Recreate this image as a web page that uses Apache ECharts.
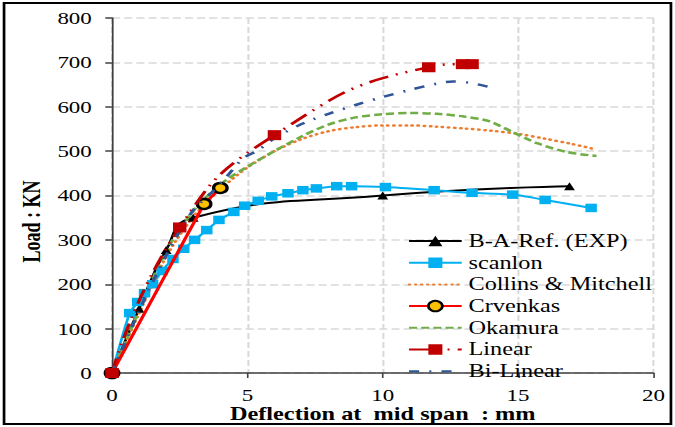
<!DOCTYPE html>
<html>
<head>
<meta charset="utf-8">
<script src="https://cdn.jsdelivr.net/npm/echarts@6/dist/echarts.min.js"></script>
<style>
html,body{margin:0;padding:0;background:#fff;overflow:hidden;}
#wrap{width:675px;height:427px;overflow:hidden;}
/* the reference picture is stretched horizontally; reproduce that */
#chart{width:500px;height:427px;transform:scaleX(1.35);transform-origin:0 0;}
</style>
</head>
<body>
<div id="wrap"><div id="chart"></div></div>
<script>
// ---- data (deflection mm, load kN) ----
const xTicks = [0, 5, 10, 15, 20];
const yTicks = [0, 100, 200, 300, 400, 500, 600, 700, 800];

const expX = [0, 1.0, 2.0, 3.0, 10.0, 16.9];
const expY = [0, 145, 277, 350, 400, 421];

const scanlonX = [0, 0.65, 0.95, 1.2, 1.5, 1.85, 2.25, 2.65, 3.05, 3.5, 3.95, 4.5, 4.9, 5.4, 5.9, 6.5, 7.05, 7.55, 8.3, 8.85, 10.1, 11.9, 13.3, 14.8, 16.0, 17.7];
const scanlonY = [0, 135, 160, 180, 200, 230, 257, 280, 300, 322, 345, 363, 377, 388, 398, 405, 412, 416, 421, 421, 419, 412, 406, 402, 390, 372];

const collinsX = [0, 1, 2, 3, 4, 5, 6, 7, 8, 9, 10, 11, 12, 13, 14, 15, 16, 17, 17.8];
const collinsY = [0, 135, 262, 352, 414, 463, 500, 527, 545, 554, 558, 558, 555, 551, 546, 539, 528, 516, 505];

const crvenkasX = [0, 3.4, 4.0];
const crvenkasY = [0, 381, 417];

const okamuraX = [0, 1, 2, 3, 4, 5, 6, 7, 8, 9, 10, 11, 12, 13, 13.9, 14.8, 15.7, 16.8, 17.9];
const okamuraY = [0, 142, 275, 365, 425, 465, 500, 533, 560, 576, 583, 586, 584, 578, 568, 543, 518, 498, 489];

const linearX = [0, 2.5, 6.0, 11.7, 12.95, 13.3];
const linearY = [0, 328, 536, 689, 696, 696];

const biLinearX = [0, 1, 2, 3, 3.7, 4.2, 4.85, 5.4, 6, 7, 8, 9, 10, 11, 12, 12.6, 13.2, 13.9];
const biLinearY = [0, 140, 265, 367, 408, 440, 484, 502, 529, 561, 584, 604, 622, 638, 652, 657, 654, 645];

const seriesNames = ['B-A-Ref. (EXP)', 'scanlon', 'Collins & Mitchell', 'Crvenkas', 'Okamura', 'Linear', 'Bi-Linear'];

function zip(xs, ys) { return xs.map((x, i) => [x, ys[i]]); }

const FONT = "'Liberation Serif', 'Times New Roman', serif";
const NOSYM = 'rgba(0,0,0,0)';

const chart = echarts.init(document.getElementById('chart'), null, {renderer: 'svg'});
chart.setOption({
  animation: false,
  backgroundColor: '#fff',
  grid: {left: 83, right: 16, top: 18, bottom: 54, containLabel: false, outerBoundsMode: 'none'},
  graphic: [{
    type: 'rect', shape: {x: 3, y: 3, width: 494, height: 421},
    style: {fill: 'none', stroke: '#000', lineWidth: 2}, silent: true, z: 100
  }],
  legend: {
    orient: 'vertical', left: 297, top: 226,
    itemWidth: 39, itemHeight: 13, itemGap: 1.7,
    data: seriesNames,
    textStyle: {fontFamily: FONT, fontSize: 18, color: '#000', lineHeight: 20}
  },
  xAxis: {
    type: 'value', min: xTicks[0], max: xTicks[xTicks.length - 1], interval: 5,
    name: 'Deflection at  mid span  : mm', nameLocation: 'middle', nameGap: 32,
    nameMoveOverlap: false,
    nameTextStyle: {fontFamily: FONT, fontSize: 18, fontWeight: 'bold', color: '#000', lineHeight: 18},
    axisLine: {lineStyle: {color: '#404040', width: 1.5}},
    axisTick: {show: true, inside: false, length: 5, lineStyle: {color: '#404040', width: 1.2}},
    axisLabel: {fontFamily: FONT, fontSize: 17, color: '#000', margin: 14, lineHeight: 17},
    splitLine: {show: true, lineStyle: {color: '#d9d9d9', type: [6, 3], width: 1.5}}
  },
  yAxis: {
    type: 'value', min: yTicks[0], max: yTicks[yTicks.length - 1], interval: 100,
    name: 'Load : KN', nameLocation: 'middle', nameGap: 50,
    nameMoveOverlap: false,
    nameTextStyle: {fontFamily: FONT, fontSize: 18, fontWeight: 'bold', color: '#000', padding: [0, 52, 0, 0]},
    axisLine: {show: true, lineStyle: {color: '#404040', width: 1.3}},
    axisTick: {show: true, inside: false, length: 5, lineStyle: {color: '#404040', width: 1.5}},
    axisLabel: {fontFamily: FONT, fontSize: 17, color: '#000', margin: 15},
    splitLine: {show: true, lineStyle: {color: '#d9d9d9', type: [6, 3], width: 1.5}}
  },
  series: [
    {
      name: seriesNames[0], type: 'line', data: zip(expX, expY), smooth: 0.5,
      symbol: 'triangle', symbolSize: 8,
      itemStyle: {color: '#000'}, lineStyle: {color: '#000', width: 2}, z: 3
    },
    {
      name: seriesNames[1], type: 'line', data: zip(scanlonX, scanlonY), smooth: 0.2,
      symbol: 'rect', symbolSize: 8.5,
      itemStyle: {color: '#00B0F0'}, lineStyle: {color: '#00B0F0', width: 2}, z: 3
    },
    {
      name: seriesNames[2], type: 'line', data: zip(collinsX, collinsY), smooth: 0.3,
      symbol: 'none', showSymbol: false,
      itemStyle: {color: NOSYM},
      lineStyle: {color: '#ED7D31', width: 2.5, type: [0.5, 4], cap: 'round'}, z: 3
    },
    {
      name: seriesNames[3], type: 'line', data: zip(crvenkasX, crvenkasY), smooth: false,
      symbol: 'circle', symbolSize: 10,
      itemStyle: {color: '#FFC000', borderColor: '#000', borderWidth: 2.5},
      lineStyle: {color: '#FF0000', width: 2.5}, z: 4
    },
    {
      name: seriesNames[4], type: 'line', data: zip(okamuraX, okamuraY), smooth: 0.3,
      symbol: 'none', showSymbol: false,
      itemStyle: {color: NOSYM},
      lineStyle: {color: '#70AD47', width: 2.5, type: [6, 3]}, z: 3
    },
    {
      name: seriesNames[5], type: 'line', data: zip(linearX, linearY), smooth: 0.5,
      symbol: 'rect', symbolSize: 10,
      itemStyle: {color: '#C00000'},
      lineStyle: {color: '#C00000', width: 2.5, type: [15, 6, 1.5, 6, 1.5, 6]}, z: 5
    },
    {
      name: seriesNames[6], type: 'line', data: zip(biLinearX, biLinearY), smooth: 0.3,
      symbol: 'none', showSymbol: false,
      itemStyle: {color: NOSYM},
      lineStyle: {color: '#2F5597', width: 2.5, type: [7.5, 7.5, 1.5, 7.5]}, z: 5
    }
  ]
});
</script>
</body>
</html>
